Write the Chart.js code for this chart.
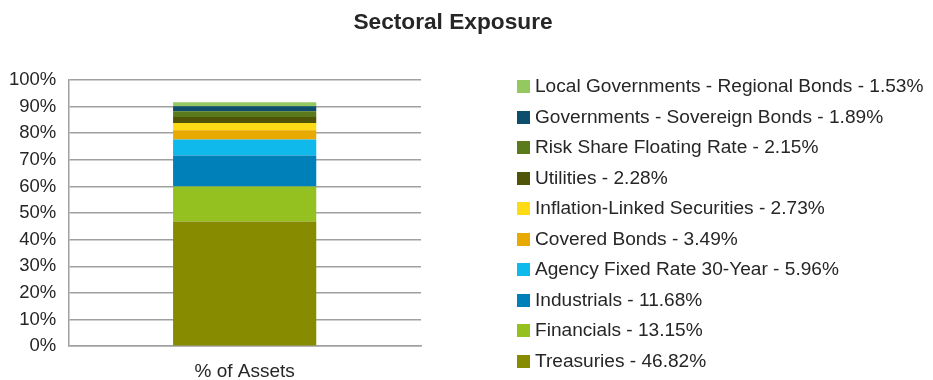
<!DOCTYPE html>
<html>
<head>
<meta charset="utf-8">
<script src="https://cdn.jsdelivr.net/npm/chart.js@4/dist/chart.umd.min.js"></script>
<style>
  html, body { margin: 0; padding: 0; background: #fff; }
  #wrap { position: relative; width: 933px; height: 380px; overflow: hidden;
          font-family: 'Liberation Sans', Arial, sans-serif; color: #262626; }
  #title { position: absolute; left: 0; top: 8px; width: 906px; text-align: center;
           font-size: 22.7px; font-weight: bold; line-height: 26px; }
  #legend { position: absolute; left: 517px; top: 71px; margin: 0; padding: 0; list-style: none; }
  #legend li { height: 30.56px; line-height: 30.56px; font-size: 19.1px; white-space: nowrap; }
  #legend span.box { display: inline-block; width: 13px; height: 13px; margin-right: 5px;
                     vertical-align: -1px; }
  canvas { position: absolute; left: 0; top: 0; }
</style>
</head>
<body>
<div id="wrap">
  <canvas id="sectorChart" width="933" height="380"></canvas>
  <div id="title">Sectoral Exposure</div>
  <ul id="legend"></ul>
</div>
<script>
// bottom to top of the stack
const categories = ['% of Assets'];
const sectors = [
  'Treasuries', 'Financials', 'Industrials', 'Agency Fixed Rate 30-Year',
  'Covered Bonds', 'Inflation-Linked Securities', 'Utilities',
  'Risk Share Floating Rate', 'Governments - Sovereign Bonds',
  'Local Governments - Regional Bonds'
];
const weights = [46.82, 13.15, 11.68, 5.96, 3.49, 2.73, 2.28, 2.15, 1.89, 1.53];
const colors = [
  '#878b00', '#94c11f', '#0080b9', '#10b9ec', '#e8a900',
  '#ffdb15', '#4f5406', '#5a7a1c', '#0d4e6c', '#94c861'
];
const yTicks = [0, 10, 20, 30, 40, 50, 60, 70, 80, 90, 100];

const font = 'Liberation Sans, Arial, sans-serif';
const textColor = '#262626';

const datasets = sectors.map((name, i) => ({
  label: name + ' - ' + weights[i].toFixed(2) + '%',
  data: [weights[i]],
  backgroundColor: colors[i],
  borderWidth: 0,
  categoryPercentage: 1,
  barPercentage: 0.406
}));

// legend as html, top entry = top of the stack
const legendEl = document.getElementById('legend');
datasets.slice().reverse().forEach(ds => {
  const li = document.createElement('li');
  const box = document.createElement('span');
  box.className = 'box';
  box.style.background = ds.backgroundColor;
  li.appendChild(box);
  li.appendChild(document.createTextNode(ds.label));
  legendEl.appendChild(li);
});

new Chart(document.getElementById('sectorChart'), {
  type: 'bar',
  data: { labels: categories, datasets: datasets },
  options: {
    responsive: false,
    animation: false,
    layout: { padding: { left: -3, right: 512, top: 80, bottom: -17 } },
    scales: {
      x: {
        stacked: true,
        grid: { display: false, drawTicks: false },
        border: { display: true, color: '#a0a0a0', width: 1.5 },
        ticks: { color: textColor, font: { family: font, size: 19 }, padding: 14 }
      },
      y: {
        stacked: true,
        min: 0,
        max: 100,
        afterBuildTicks: s => { s.ticks = yTicks.map(v => ({ value: v })); },
        grid: { color: '#a0a0a0', lineWidth: 1.5, drawTicks: false },
        border: { display: true, color: '#a0a0a0', width: 1.5 },
        ticks: {
          color: textColor,
          font: { family: font, size: 18.5 },
          padding: 12,
          callback: v => v + '%'
        }
      }
    },
    plugins: {
      legend: { display: false },
      tooltip: { enabled: false }
    }
  }
});
</script>
</body>
</html>
